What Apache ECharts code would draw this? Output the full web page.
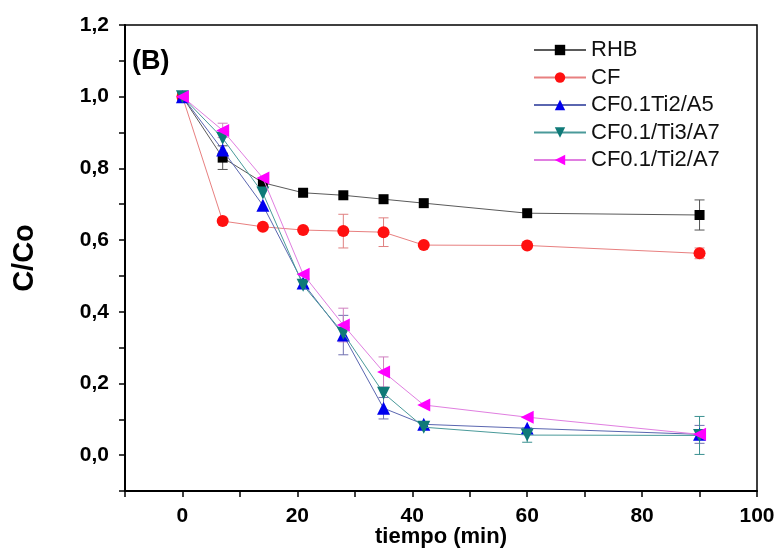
<!DOCTYPE html>
<html>
<head>
<meta charset="utf-8">
<script src="https://cdn.jsdelivr.net/npm/echarts@6/dist/echarts.min.js"></script>
<style>
  html, body { margin: 0; padding: 0; background: #fff; }
  #chart { width: 778px; height: 551px; }
</style>
</head>
<body>
<div id="chart"></div>
<script>
// Sampling times (min)
const tiempo = [0, 7, 14, 21, 28, 35, 42, 60, 90];

// C/Co for each sample
const rhb       = [1.0, 0.83, 0.76, 0.732, 0.725, 0.714, 0.703, 0.675, 0.67];
const cf        = [1.0, 0.653, 0.637, 0.628, 0.625, 0.622, 0.586, 0.585, 0.563];
const cfTi2A5   = [1.0, 0.851, 0.697, 0.48, 0.335, 0.131, 0.086, 0.075, 0.058];
const cfTi3A7   = [1.0, 0.884, 0.731, 0.474, 0.34, 0.173, 0.078, 0.056, 0.055];
const cfTi2A7   = [1.0, 0.906, 0.773, 0.505, 0.363, 0.232, 0.14, 0.106, 0.058];

// Standard deviations (0 = no bar drawn)
const rhbErr     = [0, 0.033, 0, 0, 0, 0, 0, 0, 0.042];
const cfErr      = [0, 0, 0, 0, 0.047, 0.04, 0, 0, 0.015];
const cfTi2A5Err = [0, 0, 0, 0, 0.055, 0.03, 0, 0, 0.025];
const cfTi3A7Err = [0, 0, 0, 0, 0, 0, 0, 0.02, 0.053];
const cfTi2A7Err = [0, 0.02, 0, 0, 0.047, 0.042, 0, 0, 0];

const seriesNames = ['RHB', 'CF', 'CF0.1Ti2/A5', 'CF0.1/Ti3/A7', 'CF0.1/Ti2/A7'];

const styles = [
  { marker: '#000000', line: '#5a5a5a', err: '#555555', symbol: 'rect', size: 10 },
  { marker: '#ff1010', line: '#e88080', err: '#e08080', symbol: 'circle', size: 12 },
  { marker: '#0000ee', line: '#5a66b0', err: '#7070b0', symbol: 'triangle', size: 13 },
  { marker: '#0f7a78', line: '#4a9a9a', err: '#3a9090', symbol: 'path://M0,0L2,0L1,1.8Z', size: 13 },
  { marker: '#ff00ff', line: '#e07ee0', err: '#d080c0', symbol: 'path://M1.8,0L1.8,2L0,1Z', size: 13 }
];

const values = [rhb, cf, cfTi2A5, cfTi3A7, cfTi2A7];
const errors = [rhbErr, cfErr, cfTi2A5Err, cfTi3A7Err, cfTi2A7Err];

const font = "'Liberation Sans', Arial, sans-serif";

const series = [];

// Error bars, drawn under the markers
values.forEach((vals, i) => {
  const data = [];
  tiempo.forEach((t, k) => {
    if (errors[i][k] > 0) data.push([t, vals[k], errors[i][k]]);
  });
  series.push({
    type: 'custom',
    name: seriesNames[i] + ' err',
    z: 1,
    silent: true,
    data: data,
    renderItem: function (params, api) {
      const x = api.value(0), y = api.value(1), e = api.value(2);
      const top = api.coord([x, y + e]);
      const bot = api.coord([x, y - e]);
      const w = 5;
      const st = { stroke: styles[i].err, lineWidth: 1 };
      return {
        type: 'group',
        children: [
          { type: 'line', shape: { x1: top[0], y1: top[1], x2: bot[0], y2: bot[1] }, style: st },
          { type: 'line', shape: { x1: top[0] - w, y1: top[1], x2: top[0] + w, y2: top[1] }, style: st },
          { type: 'line', shape: { x1: bot[0] - w, y1: bot[1], x2: bot[0] + w, y2: bot[1] }, style: st }
        ]
      };
    }
  });
});

values.forEach((vals, i) => {
  series.push({
    type: 'line',
    name: seriesNames[i],
    z: 2 + i,
    data: tiempo.map((t, k) => [t, vals[k]]),
    symbol: styles[i].symbol,
    symbolSize: styles[i].size,
    showAllSymbol: true,
    itemStyle: { color: styles[i].marker },
    lineStyle: { color: styles[i].line, width: 1 },
    animation: false
  });
});

const chart = echarts.init(document.getElementById('chart'), null, { renderer: 'canvas' });

chart.setOption({
  animation: false,
  backgroundColor: '#ffffff',
  grid: {
    left: 125, right: 21, top: 25, bottom: 60,
    containLabel: false,
    outerBoundsMode: 'none',
    show: true, borderColor: '#000', borderWidth: 1.5, backgroundColor: 'transparent'
  },
  graphic: [
    {
      type: 'text', left: 132, top: 48,
      style: { text: '(B)', font: "bold 27px " + font, fill: '#000' }
    }
  ],
  legend: {
    orient: 'vertical',
    left: 528, top: 34,
    itemWidth: 52, itemHeight: 13, itemGap: 5.5,
    data: seriesNames,
    textStyle: { fontFamily: font, fontSize: 22, color: '#111', lineHeight: 22 }
  },
  xAxis: {
    type: 'value',
    min: -10, max: 100, interval: 10,
    name: 'tiempo (min)',
    nameLocation: 'middle',
    nameGap: 35,
    nameMoveOverlap: false,
    nameTextStyle: { fontFamily: font, fontSize: 22, fontWeight: 'bold', color: '#000' },
    axisLine: { show: true, onZero: false, lineStyle: { color: '#000', width: 2 } },
    axisTick: { show: true, inside: false, length: 6, lineStyle: { color: '#000', width: 1.5 } },
    axisLabel: {
      fontFamily: font, fontSize: 21, fontWeight: 'bold', color: '#000', margin: 15,
      formatter: v => (v >= 0 && v % 20 === 0) ? String(v) : ''
    },
    splitLine: { show: false }
  },
  yAxis: {
    type: 'value',
    min: -0.1, max: 1.2, interval: 0.1,
    name: 'C/Co',
    nameLocation: 'middle',
    nameGap: 86,
    nameMoveOverlap: false,
    nameRotate: 90,
    nameTextStyle: { fontFamily: font, fontSize: 29, fontWeight: 'bold', color: '#000' },
    axisLine: { show: true, onZero: false, lineStyle: { color: '#000', width: 2 } },
    axisTick: { show: true, inside: false, length: 6, lineStyle: { color: '#000', width: 1.5 } },
    axisLabel: {
      fontFamily: font, fontSize: 21, fontWeight: 'bold', color: '#000', margin: 16,
      formatter: v => {
        const t = Math.round(v * 10);
        return (t >= 0 && t % 2 === 0) ? (t / 10).toFixed(1).replace('.', ',') : '';
      }
    },
    splitLine: { show: false }
  },
  series: series
});
</script>
</body>
</html>
